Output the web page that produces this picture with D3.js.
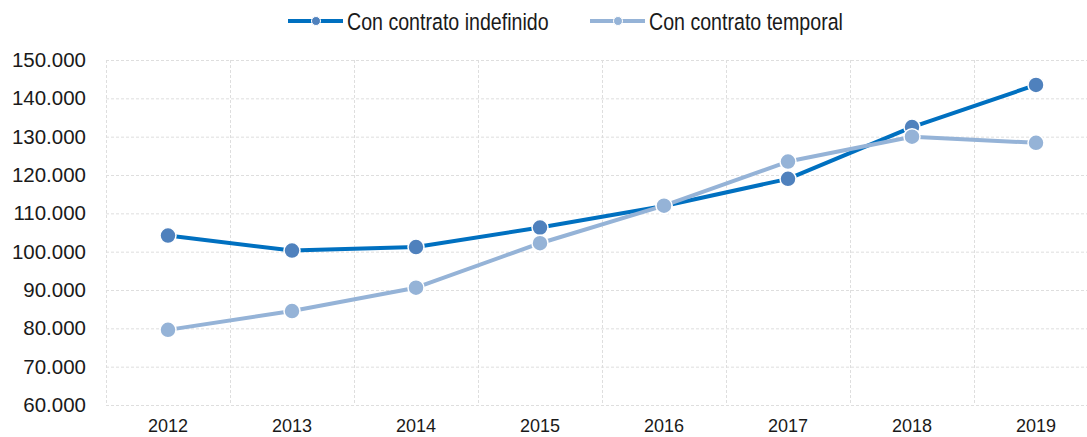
<!DOCTYPE html>
<html>
<head>
<meta charset="utf-8">
<script src="https://cdn.jsdelivr.net/npm/d3@7"></script>
<style>
body { margin: 0; background: #fff; }
svg { display: block; }
</style>
</head>
<body>
<svg id="chart" width="1087" height="437"></svg>
<script>
// data
var years = ["2012", "2013", "2014", "2015", "2016", "2017", "2018", "2019"];
var indefinido = [104200, 100300, 101200, 106300, 111900, 119000, 132500, 143500];
var temporal = [79600, 84500, 90600, 102200, 112000, 123500, 130000, 128400];
var yTicks = [60000, 70000, 80000, 90000, 100000, 110000, 120000, 130000, 140000, 150000];
var seriesNames = ["Con contrato indefinido", "Con contrato temporal"];

var width = 1087, height = 437;
var svg = d3.select("#chart");

var x = d3.scaleBand().domain(years).range([106, 1098]);
var y = d3.scaleLinear().domain([60000, 150000]).range([405, 60]);

var fmt = function(v) { return d3.format(",")(v).replace(/,/g, "."); };

// grid
var grid = svg.append("g").attr("class", "grid");
grid.selectAll("line.h").data(yTicks).enter().append("line")
	.attr("class", "h")
	.attr("x1", x.range()[0]).attr("x2", x.range()[1])
	.attr("y1", function(d) { return y(d) + 0.5; })
	.attr("y2", function(d) { return y(d) + 0.5; })
	.attr("stroke", "#dedede").attr("stroke-width", 1)
	.attr("stroke-dasharray", "3,2");
var bounds = years.map(function(d) { return x(d); }).concat([x.range()[1]]);
grid.selectAll("line.v").data(bounds).enter().append("line")
	.attr("class", "v")
	.attr("x1", function(d) { return Math.round(d) + 0.5; })
	.attr("x2", function(d) { return Math.round(d) + 0.5; })
	.attr("y1", y(150000)).attr("y2", y(60000))
	.attr("stroke", "#dedede").attr("stroke-width", 1)
	.attr("stroke-dasharray", "3,2");

// axes (labels only)
var yAxis = d3.axisLeft(y).tickValues(yTicks).tickFormat(fmt).tickSize(0).tickPadding(0);
var gy = svg.append("g").attr("transform", "translate(86,0)").call(yAxis);
gy.select(".domain").remove();
gy.selectAll("text")
	.attr("font-family", "'Liberation Sans', Arial, sans-serif")
	.attr("font-size", "20.5px")
	.attr("fill", "#1a1a1a");

var xAxis = d3.axisBottom(x).tickSize(0).tickPadding(0);
var gx = svg.append("g").attr("transform", "translate(0,419)").call(xAxis);
gx.select(".domain").remove();
gx.selectAll("text")
	.attr("font-family", "'Liberation Sans', Arial, sans-serif")
	.attr("font-size", "18px")
	.attr("fill", "#1a1a1a");

// series
var series = [
	{ name: seriesNames[0], values: indefinido, line: "#0070C0", marker: "#4F81BD" },
	{ name: seriesNames[1], values: temporal, line: "#95B3D7", marker: "#95B3D7" }
];
var cx = function(d, i) { return x(years[i]) + x.bandwidth() / 2; };
var lineGen = d3.line()
	.x(cx)
	.y(function(d) { return y(d); });

series.forEach(function(s) {
	var g = svg.append("g").attr("class", "series");
	g.append("path")
		.attr("d", lineGen(s.values))
		.attr("fill", "none")
		.attr("stroke", s.line)
		.attr("stroke-width", 4)
		.attr("stroke-linejoin", "round");
	g.selectAll("circle").data(s.values).enter().append("circle")
		.attr("cx", cx)
		.attr("cy", function(d) { return y(d); })
		.attr("r", 8)
		.attr("fill", s.marker)
		.attr("stroke", "#fff")
		.attr("stroke-width", 1.5);
});

// legend
var legendItems = [
	{ x: 288, s: series[0] },
	{ x: 590, s: series[1] }
];
var lg = svg.append("g").attr("class", "legend");
legendItems.forEach(function(it) {
	var g = lg.append("g").attr("transform", "translate(" + it.x + ",21)");
	g.append("line").attr("x1", 0).attr("x2", 55).attr("y1", 0).attr("y2", 0)
		.attr("stroke", it.s.line).attr("stroke-width", 4);
	g.append("circle").attr("cx", 28).attr("cy", 0).attr("r", 4.5)
		.attr("fill", it.s.marker).attr("stroke", "#fff").attr("stroke-width", 1);
	// condensed look: squeeze the regular face horizontally
	g.append("text")
		.attr("transform", "translate(59,8.5) scale(0.835,1)")
		.attr("font-family", "'Liberation Sans', Arial, sans-serif")
		.attr("font-size", "23.5px")
		.attr("fill", "#1a1a1a")
		.text(it.s.name);
});
</script>
</body>
</html>
